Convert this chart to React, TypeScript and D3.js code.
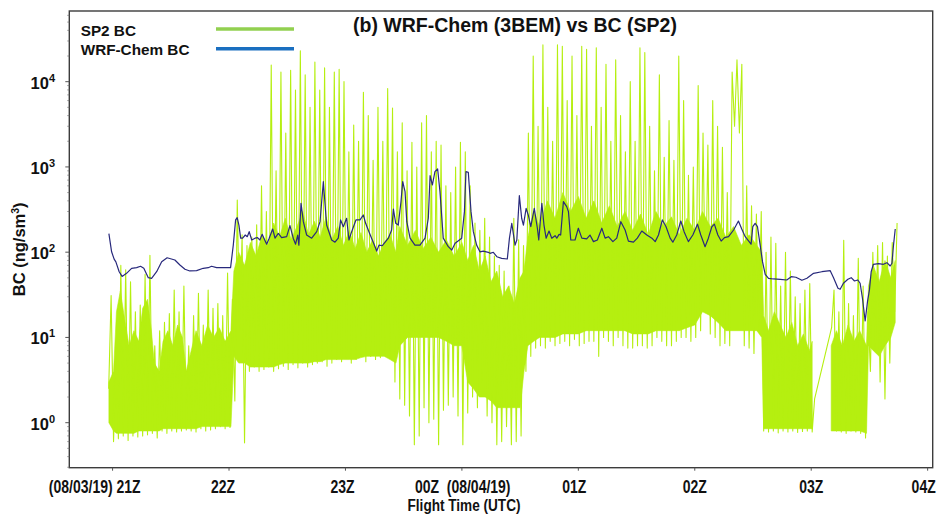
import React from "react";
import * as d3 from "d3";

// ---------- data ----------
// WRF-Chem BC: time in minutes after 21Z (08/03/19), BC in ng/sm3
const wrfMinutes = [
  -1.9, -0.5, 0.8, 1.7, 3.4, 4.9, 7.2, 9.8, 12.4, 14.4, 16.1, 18.4, 20.1, 22.7, 25.3, 28.1, 32.1, 34.7, 37.3, 39.8,
  43.3, 46.7, 49.3, 51.0, 53.6, 57.0, 60.8, 62.2, 63.4, 64.2, 65.1, 66.0, 67.0, 68.4, 69.4, 70.4, 71.7, 73.4, 74.7, 75.9,
  77.1, 78.0, 79.4, 80.7, 82.5, 83.7, 85.4, 87.1, 89.7, 91.4, 93.1, 94.3, 95.4, 96.0, 97.1, 98.3, 100.0, 102.6, 105.2, 106.9,
  108.6, 110.3, 112.9, 114.6, 116.3, 117.5, 118.9, 120.6, 121.8, 123.2, 125.4, 127.5, 129.2, 130.4, 132.1, 134.3, 136.1, 137.3, 139.0, 142.1,
  143.8, 144.7, 145.9, 147.2, 148.6, 149.5, 150.7, 151.6, 153.3, 155.8, 158.4, 161.0, 162.7, 163.6, 164.8, 166.1, 167.5, 168.7, 170.4, 173.0,
  174.8, 176.5, 179.9, 181.3, 182.1, 183.3, 184.7, 185.9, 187.6, 189.3, 191.0, 193.6, 194.5, 196.2, 198.0, 200.5, 203.4, 204.5, 205.7, 207.4,
  208.3, 209.6, 210.8, 211.7, 213.1, 214.2, 215.5, 217.3, 218.9, 219.6, 221.2, 222.3, 223.4, 224.9, 226.3, 228.0, 228.9, 230.1, 230.9, 232.3,
  234.0, 234.9, 236.1, 238.3, 240.0, 241.8, 244.3, 246.0, 247.8, 249.8, 252.1, 253.8, 255.5, 257.8, 259.8, 261.9, 264.1, 265.8, 268.4, 270.4,
  272.7, 275.3, 277.9, 279.6, 281.3, 283.3, 285.2, 287.3, 288.7, 290.7, 292.8, 294.5, 296.7, 299.0, 301.4, 303.1, 305.3, 307.0, 308.8, 310.1,
  311.9, 313.6, 315.3, 317.4, 320.0, 322.5, 324.2, 326.0, 328.0, 329.0, 329.9, 331.1, 332.3, 333.7, 334.9, 336.3, 338.0, 340.5, 344.0, 347.4,
  349.7, 352.1, 355.2, 357.8, 361.2, 365.5, 369.8, 371.5, 373.8, 374.9, 376.6, 378.9, 380.6, 382.3, 384.0, 385.2, 386.4, 387.8, 389.0, 390.0,
  390.9, 392.0, 394.7, 397.2, 399.0, 400.7, 401.6, 402.4, 403.3,
];
const wrfBC = [
  165, 101, 83, 77, 59, 52, 56.5, 64.7, 65.8, 68.4, 64.7, 50.2, 49.4, 59, 77.4, 86, 81, 70.8, 63, 60.2,
  60.7, 64.7, 65.8, 68.4, 65.8, 65.8, 65.8, 121, 239, 254, 208, 146, 146, 159, 152, 174, 139, 146, 148, 139,
  162, 146, 124, 146, 187, 146, 166, 148, 152, 205, 146, 124, 159, 121, 375, 228, 159, 146, 174, 228,
  671, 208, 139, 131, 146, 239, 199, 250, 139, 174, 239, 239, 273, 218, 174, 131, 103, 121, 119, 146,
  182, 321, 218, 208, 391, 671, 513, 228, 146, 121, 121, 146, 250, 789, 614, 880, 946, 513, 146, 116,
  106, 127, 146, 299, 880, 865, 299, 174, 121, 101, 103, 99.7, 97, 99.7, 88.5, 84.7, 83.2, 146, 218, 121,
  139, 460, 250, 208, 327, 273, 199, 327, 191, 139, 375, 208, 146, 177, 146, 156, 146, 162, 159, 391,
  342, 299, 139, 139, 191, 146, 143, 159, 133, 139, 191, 146, 152, 133, 146, 228, 182, 135, 131, 146,
  177, 159, 146, 133, 159, 239, 199, 146, 131, 159, 232, 174, 133, 159, 213, 159, 116, 146, 199, 213,
  159, 135, 148, 152, 182, 232, 187, 152, 133, 124, 199, 218, 199, 121, 77.4, 55, 49.4, 48.5, 48.1, 47.2,
  51.6, 50.8, 46.8, 49.4, 56.5, 59, 60.7, 50.2, 37.7, 36.7, 43.2, 48.1, 50.2, 45.9, 47.2, 43.2, 28.8, 15.6, 26.3, 36.1,
  59, 72.1, 73.3, 72.1, 75.3, 68.9, 74.1, 121, 187,
];

// SP2 BC: 1 Hz record summarised in 2.5-minute bins, low and high of each bin
const sp2StartMinute = -2.0;
const sp2BinMinutes = 2.5;
const sp2Low = [
  2.5, 0.6, 0.65, 0.7, 0.62, 0.7, 0.68, 0.7, 0.72, 0.75,
  0.66, 0.8, 0.75, 0.8, 0.78, 0.8, 0.82, 0.8, 0.78, 0.85,
  0.8, 0.82, 0.85, 0.9, 0.85, 0.88, 1.8, 12, 0.58, 4,
  4.5, 4, 4.2, 4.5, 4, 4.3, 4.6, 4.2, 4.8, 4.4,
  5, 4.5, 4.8, 5, 5.2, 4.6, 5, 5.5, 5.2, 5.8,
  5, 5.5, 6, 5.2, 6, 5.5, 5.8, 6, 5.7, 3,
  1.9, 1.6, 1.2, 0.55, 0.7, 1.5, 1.0, 1.1, 0.55, 1.4,
  1.6, 2, 1.2, 0.55, 1.3, 2, 1.5, 3, 1.2, 1.0,
  0.55, 0.6, 0.9, 0.55, 0.6, 0.7, 4, 6, 7.5, 8,
  7.5, 9, 8, 8.5, 9, 8, 9.5, 8, 8.5, 9,
  9, 6, 10, 9, 8, 10, 8, 7.5, 7.5, 8,
  8, 7.5, 8, 10, 9, 8, 8, 9, 10, 10,
  9, 10, 12, 25, 11, 10, 8, 8.5, 8, 3000,
  2500, 8, 7.5, 6.5, 12, 0.8, 0.78, 0.8, 0.76, 0.8,
  0.78, 0.8, 0.77, 0.79, 0.8, 0.78, null, null, null, 13,
  0.8, 0.78, 0.75, 0.8, 0.78, 0.75, 0.66, 4, 7, 3,
  1.9, 5, 20,
];
const sp2High = [
  31, 6, 70, 62, 45, 20, 24, 55, 92, 8,
  12, 15, 19, 36, 20, 40, 8, 18, 33, 14,
  36, 22, 25, 18, 57, 28, 410, 160, 120, 150,
  210, 600, 300, 15700, 900, 13000, 2500, 13600, 8000, 23000,
  12000, 5000, 17000, 8000, 14500, 5000, 13000, 14000, 10000, 1500,
  3100, 2000, 7500, 4000, 1200, 5000, 2000, 8300, 4900, 1500,
  3300, 900, 1950, 1000, 3300, 4000, 1500, 2000, 1800, 600,
  500, 1000, 1950, 1500, 600, 220, 180, 250, 150, 90,
  70, 60, 40, 250, 140, 120, 2500, 20000, 3000, 27000,
  5000, 2000, 27000, 26000, 6000, 20000, 4000, 26000, 24000, 3000,
  25000, 5000, 16000, 2000, 18000, 4000, 1500, 10000, 2000, 25000,
  22000, 3000, 900, 12000, 1300, 3500, 1200, 20000, 6000, 800,
  1000, 9000, 2500, 1800, 6000, 3000, 1700, 500, 13000, 18000,
  16000, 600, 350, 280, 300, 100, 150, 127, 40, 100,
  60, 30, 25, 36, 43, 1.9, null, null, null, 36,
  20, 138, 25, 18, 85, 40, 20, 100, 120, 130,
  90, 130, 220,
];
// dense core of the SP2 trace (where the 1 Hz line fills in solid)
const sp2CoreMinutes = [
  -1.9, 0.5, 2.0, 4.0, 6.5, 8.5, 11, 13.5, 15.5, 18, 20, 21.5, 24, 26, 28.5, 31, 33.5, 36, 38, 40.5, 43, 46, 49, 52, 55, 58, 61,
  62.5, 65, 68, 71, 74, 77, 80, 83, 86, 89, 92, 95, 98, 101, 104, 107, 110, 113, 116, 119, 122,
  125, 128, 131, 134, 137, 140, 143, 146, 148, 152, 156, 160, 164, 168, 172, 176, 180,
  183, 186, 189, 192, 195, 198, 201, 204, 207, 210, 212,
  214, 217, 220, 224, 228, 232, 236, 240, 244, 248, 252, 256, 260, 264, 268, 272, 276, 280, 284, 288, 292, 296, 300, 304, 308, 312, 316, 320, 324, 328, 332, 334.5,
  335.5, 338, 341, 344, 347, 350, 353, 356, 359, 360.5,
  365,
  370.3, 373, 376, 379, 382, 385, 388.5,
  389.5, 392, 395, 398, 401, 403.3,
];
const sp2CoreLow = [
  1, 0.8, 0.75, 0.75, 0.75, 0.75, 0.75, 0.8, 0.8, 0.8, 0.8, 0.8, 0.8, 0.85, 0.85, 0.85, 0.85, 0.85, 0.85, 0.85, 0.85, 0.9, 0.9, 0.9, 0.9, 0.9, 0.9,
  6, 5, 5, 4.5, 4.5, 4.5, 4.5, 4.5, 4.8, 5, 5, 5, 5, 5, 5.2, 5.2, 5.5, 5.5, 5.5, 5.5, 5.5,
  5.5, 5.8, 6, 6, 6, 6, 5.5, 5, 8, 10, 10, 10, 10, 10, 9, 8, 8,
  3, 2.5, 2, 2, 1.8, 1.5, 1.5, 1.5, 1.5, 1.5, 4,
  8, 9, 10, 10, 10, 11, 11, 11, 12, 12, 12, 12, 12, 12, 11, 11, 11, 12, 12, 12, 12, 13, 14, 20, 18, 15, 12, 12, 12, 12, 12, 10,
  0.85, 0.85, 0.85, 0.85, 0.85, 0.85, 0.85, 0.85, 0.85, 0.85,
  null,
  0.8, 0.8, 0.8, 0.8, 0.8, 0.8, 0.75,
  8, 7, 6, 8, 10, 15,
];
const sp2CoreTop = [
  3, 4, 20, 35, 15, 8, 12, 9, 22, 28, 12, 5, 4, 9, 12, 8, 14, 10, 4, 7, 12, 8, 14, 10, 13, 9, 12,
  60, 100, 70, 130, 90, 160, 120, 220, 150, 250, 140, 200, 300, 160, 230, 150, 260, 140, 200, 120, 180,
  110, 170, 100, 140, 90, 130, 160, 100, 200, 120, 180, 110, 150, 100, 140, 90, 130,
  80, 120, 60, 90, 45, 60, 30, 40, 25, 50, 60,
  150, 300, 200, 400, 250, 500, 300, 450, 250, 400, 220, 350, 200, 300, 180, 280, 160, 300, 200, 260, 160, 250, 180, 300, 200, 250, 150, 200, 120, 160, 120, 100,
  18, 12, 20, 14, 10, 15, 8, 11, 7, 9,
  null,
  8, 12, 8, 14, 9, 12, 8,
  40, 70, 45, 80, 50, 80,
];

const xTickMinutes = [0, 60, 120, 180, 240, 300, 360, 420];
const xTickLabels = ["(08/03/19) 21Z", "22Z", "23Z", "00Z  (08/04/19)", "01Z", "02Z", "03Z", "04Z"];
const yTickExponents = [0, 1, 2, 3, 4];

const title = "(b) WRF-Chem (3BEM) vs BC (SP2)";
const legendLabels = ["SP2 BC", "WRF-Chem BC"];
const xAxisTitle = "Flight Time (UTC)";

// ---------- layout / style ----------
const W = 938;
const H = 514;
const PLOT = { left: 69.3, right: 932.7, top: 11, bottom: 467.7 };
const GREEN = "#b5ef10";
const NAVY = "#28297c";
const LEG_GREEN = "#92d050";
const LEG_BLUE = "#1a6fc0";
const BOLD = "'Liberation Sans', Arial, Helvetica, sans-serif";
const NARROW_SCALE = 0.8;

export default function App() {
  const x = d3.scaleLinear().domain([-22.3, 422.6]).range([PLOT.left, PLOT.right]);
  const y = d3.scaleLog().domain([0.2965, 67450]).range([PLOT.bottom, PLOT.top]);

  // SP2 zig-zag trace
  const sp2Pts: [number, number][] = [];
  sp2Low.forEach((lo, i) => {
    const t = sp2StartMinute + sp2BinMinutes * i;
    if (lo != null) sp2Pts.push([t, lo]);
    const hi = sp2High[i];
    if (hi != null) sp2Pts.push([t + sp2BinMinutes / 2, hi]);
  });
  const sp2Path = d3
    .line<[number, number]>()
    .x((d) => x(d[0]))
    .y((d) => y(d[1]))(sp2Pts);

  const coreData = sp2CoreMinutes.map((t, i) => ({ t, lo: sp2CoreLow[i], hi: sp2CoreTop[i] }));
  const corePath = d3
    .area<{ t: number; lo: number | null; hi: number | null }>()
    .defined((d) => d.lo != null && d.hi != null)
    .x((d) => x(d.t))
    .y0((d) => y(d.lo as number))
    .y1((d) => y(d.hi as number))(coreData);

  const wrfPath = d3
    .line<number>()
    .x((_, i) => x(wrfMinutes[i]))
    .y((d) => y(d))(wrfBC);

  const minorTicks: number[] = [];
  for (let e = -1; e <= 4; e++) {
    for (let m = 2; m <= 9; m++) {
      const v = m * Math.pow(10, e);
      if (v > 0.2965 && v < 67450) minorTicks.push(v);
    }
  }

  const tickLabelPos = (i: number) => {
    const px = x(xTickMinutes[i]);
    if (i === 0) return { px: px + 28, anchor: "end" };
    if (i === 3) return { px: px - 47, anchor: "start" };
    const off = [0, -6, -3, 0, -4, 0, 0, -4][i];
    return { px: px + off, anchor: "middle" };
  };

  return (
    <svg width={W} height={H} style={{ position: "absolute", left: 0, top: 0, background: "#fff" }}>
      <defs>
        <clipPath id="plotclip">
          <rect x={PLOT.left} y={PLOT.top} width={PLOT.right - PLOT.left} height={PLOT.bottom - PLOT.top} />
        </clipPath>
      </defs>
      <rect x={0} y={0} width={W} height={H} fill="#fff" />

      <g clipPath="url(#plotclip)">
        <path d={corePath || ""} fill={GREEN} stroke={GREEN} strokeWidth={0.6} />
        <path d={sp2Path || ""} fill="none" stroke={GREEN} strokeWidth={1.1} strokeLinejoin="round" />
        <path d={wrfPath || ""} fill="none" stroke={NAVY} strokeWidth={1.2} strokeLinejoin="round" />
      </g>

      {/* frame */}
      <rect
        x={PLOT.left}
        y={PLOT.top}
        width={PLOT.right - PLOT.left}
        height={PLOT.bottom - PLOT.top}
        fill="none"
        stroke="#3c3c3c"
        strokeWidth={1.4}
      />

      {/* y ticks */}
      {yTickExponents.map((e) => (
        <line key={"yt" + e} x1={PLOT.left - 4} x2={PLOT.left} y1={y(Math.pow(10, e))} y2={y(Math.pow(10, e))} stroke="#555" strokeWidth={1} />
      ))}
      {minorTicks.map((v, i) => (
        <line key={"ym" + i} x1={PLOT.left - 2} x2={PLOT.left} y1={y(v)} y2={y(v)} stroke="#777" strokeWidth={0.8} />
      ))}
      {yTickExponents.map((e) => (
        <text
          key={"yl" + e}
          x={55}
          y={y(Math.pow(10, e)) + 7}
          textAnchor="end"
          fontFamily={BOLD}
          fontWeight="bold"
          fontSize={16.5}
          fill="#111"
        >
          <tspan>10</tspan>
          <tspan dy={-7} fontSize={11}>
            {e}
          </tspan>
        </text>
      ))}
      <text
        transform={`translate(25,${(PLOT.top + PLOT.bottom) / 2 + 10}) rotate(-90)`}
        textAnchor="middle"
        fontFamily={BOLD}
        fontWeight="bold"
        fontSize={16.5}
        fill="#111"
      >
        <tspan>BC (ng/sm</tspan>
        <tspan dy={-6} fontSize={10.5}>3</tspan>
        <tspan dy={6}>)</tspan>
      </text>

      {/* x ticks */}
      {xTickMinutes.map((m, i) => (
        <line key={"xt" + i} x1={x(m)} x2={x(m)} y1={PLOT.bottom} y2={PLOT.bottom + 3} stroke="#555" strokeWidth={1} />
      ))}
      {xTickLabels.map((lab, i) => {
        const p = tickLabelPos(i);
        return (
          <text
            key={"xl" + i}
            transform={`translate(${p.px},493) scale(${NARROW_SCALE},1)`}
            textAnchor={p.anchor as any}
            fontFamily={BOLD}
            fontWeight="bold"
            fontSize={17.5}
            fill="#111"
            style={{ whiteSpace: "pre" }}
          >
            {lab}
          </text>
        );
      })}
      <text
        transform={`translate(464,510.5) scale(${NARROW_SCALE},1)`}
        textAnchor="middle"
        fontFamily={BOLD}
        fontWeight="bold"
        fontSize={17}
        fill="#111"
      >
        {xAxisTitle}
      </text>

      {/* title */}
      <text x={515} y={32} textAnchor="middle" fontFamily={BOLD} fontWeight="bold" fontSize={19.5} fill="#111">
        {title}
      </text>

      {/* legend */}
      <text x={80.7} y={36} fontFamily={BOLD} fontWeight="bold" fontSize={15.3} fill="#111">
        {legendLabels[0]}
      </text>
      <text x={80.7} y={54.5} fontFamily={BOLD} fontWeight="bold" fontSize={15.3} fill="#111">
        {legendLabels[1]}
      </text>
      <line x1={216} x2={294} y1={29} y2={29} stroke={LEG_GREEN} strokeWidth={3.5} />
      <line x1={216} x2={294} y1={48.7} y2={48.7} stroke={LEG_BLUE} strokeWidth={3.5} />
    </svg>
  );
}
